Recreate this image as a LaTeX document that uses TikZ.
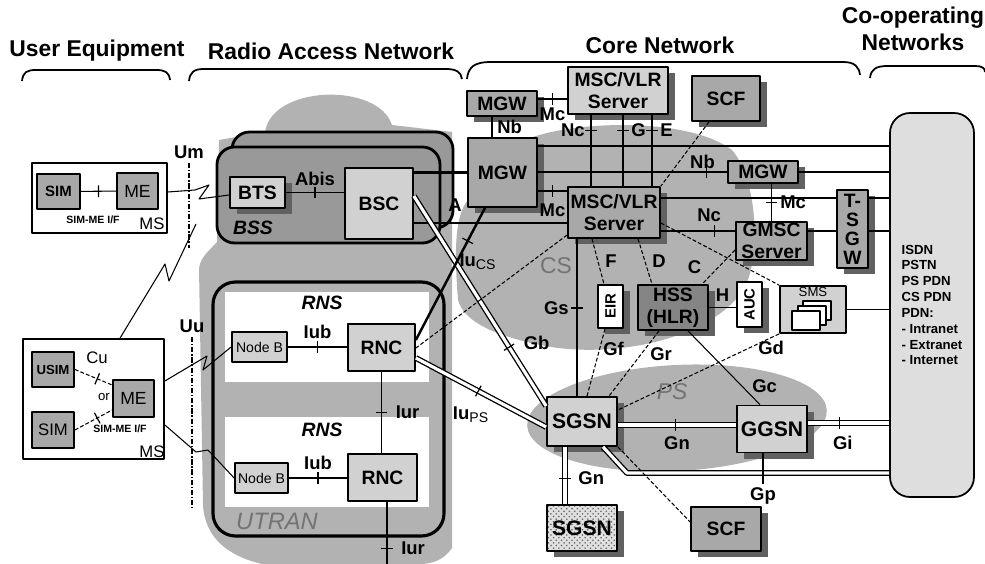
\documentclass[tikz,border=0pt]{standalone}
\usepackage{fontspec}
\setmainfont{Liberation Sans}
\usetikzlibrary{shadows,patterns,decorations.markings}

\newcommand{\fsz}[1]{\fontsize{#1}{#1}\selectfont}

\begin{document}
\begin{tikzpicture}[x=0.2mm,y=-0.2mm,line join=round,
  every node/.style={font=\bfseries\fsz{10.5},inner sep=1pt},
  ne/.style={draw,line width=1pt,fill=black!34,align=center,inner sep=0pt,
    font=\bfseries\fontsize{11}{12.5}\selectfont},
  shd/.style={drop shadow={shadow xshift=1.3mm,shadow yshift=-1.3mm,fill=black!62,opacity=1}},
  lt/.style={fill=black!18},
  dk/.style={fill=black!48},
  wt/.style={fill=white},
  sz/.style 2 args={minimum width=#1*0.2mm,minimum height=#2*0.2mm},
  ln/.style={line width=0.6pt},
  sig/.style={line width=0.6pt,dash pattern=on 2.2pt off 1.2pt},
  usr/.style={line width=1.4pt},
  dbl/.style={double,double distance=1.8pt,line width=0.75pt},
  tickat/.style={postaction={decorate,decoration={markings,
    mark=at position #1 with {\draw[solid,line width=0.7pt] (0,-3.4pt) -- (0,3.4pt);}}}},
  radio/.style={line width=0.6pt},
  air/.style={line width=0.9pt,dash pattern=on 3pt off 1pt on 0.8pt off 1pt},
  cloudfill/.style={fill=black!30},
  brace/.style={line width=1pt},
  ttl/.style={font=\bfseries\fsz{13}},
  ital/.style={font=\bfseries\itshape\fsz{11}}
]
\useasboundingbox (0,0) rectangle (985,564);

% grey domains
\fill[cloudfill] (265,132) .. controls (272,85) and (378,82) .. (392,125) -- (452,132) -- (452,548)
  .. controls (444,560) and (432,564) .. (420,564) -- (262,564) .. controls (228,556) and (205,538) .. (203,505)
  -- (199,268) .. controls (201,256) and (210,250) .. (217,242) -- (219,140) -- cycle;
\fill[cloudfill] (458,300) .. controls (454,250) and (455,215) .. (468,200) -- (530,138)
  .. controls (580,120) and (690,118) .. (732,150) .. controls (758,180) and (762,262) .. (742,292)
  .. controls (705,342) and (610,358) .. (545,346) .. controls (495,336) and (464,322) .. (458,300) -- cycle;
\fill[cloudfill,rotate around={3:(677,418)}] (677,418) ellipse [x radius=150,y radius=53];

% titles
\node[ttl] (uet) at (97,51) {User Equipment};
\node[ttl] (rant) at (331,51) {Radio Access Network};
\node[ttl] (cnt) at (660,45) {Core Network};
\node[ttl,align=center,font=\bfseries\fontsize{13}{15.3}\selectfont] (cont) at (913,29) {Co-operating\\Networks};
\draw[brace] (22,81) .. controls (23,72) and (27,70) .. (36,70) -- (156,70) .. controls (165,70) and (169,72) .. (170,80);
\draw[brace] (189,81) .. controls (190,72) and (194,69) .. (204,69) -- (446,69) .. controls (456,69) and (461,72) .. (462,79);
\draw[brace] (467,79) .. controls (468,67) and (475,62) .. (490,62) -- (843,62) .. controls (855,62) and (859,67) .. (860,75);
\draw[brace] (870,78) .. controls (871,69) and (876,66) .. (888,66) -- (975,66) .. controls (982,66) and (985,68) .. (985,72);

% BSS and UTRAN frames
\draw[line width=1.6pt,fill=black!40,rounded corners=3.5mm] (232,132) rectangle (453,228);
\draw[line width=1.6pt,fill=black!40,rounded corners=3.5mm] (217,147) rectangle (440,243);
\fill[white] (225,292) rectangle (429,382);
\fill[white] (225,417) rectangle (429,507);
\draw[line width=1.8pt,rounded corners=4.5mm] (213,282) rectangle (444,536);

% user equipment
\node[ne,wt,sz={135}{70}] (msA) at (99.5,198) {};
\node[ne,sz={43}{35},font=\bfseries\fsz{8.5}] (simA) at (58.5,191.5) {SIM};
\node[ne,sz={41}{36},font=\fsz{10}] (meA) at (137.5,191) {ME};
\node[font=\bfseries\fsz{6}] (ifA) at (93,220) {SIM-ME I/F};
\node[font=\fsz{9.5}] (msAl) at (152,224) {MS};
\node[ne,wt,sz={141}{120}] (msB) at (93.5,399) {};
\node[ne,sz={42}{35},font=\bfseries\fsz{7.5}] (usim) at (53,369.5) {USIM};
\node[ne,sz={42}{36},font=\fsz{9.5}] (simB) at (53,430) {SIM};
\node[ne,sz={41}{37},font=\fsz{10}] (meB) at (133.5,398.5) {ME};
\node[font=\fsz{9.5}] (cu) at (97,358) {Cu};
\node[font=\fsz{7.5}] (orl) at (104,397) {or};
\node[font=\bfseries\fsz{6}] (ifB) at (120,429) {SIM-ME I/F};
\node[font=\fsz{9.5}] (msBl) at (152,452) {MS};

% radio access
\node[ne,lt,shd,sz={55}{31}] (bts) at (257.5,192.5) {BTS};
\node[ne,lt,sz={68}{71}] (bsc) at (379,203.5) {BSC};
\node[ital] (bss) at (253,228) {BSS};
\node[ital] (rnsA) at (322,303) {RNS};
\node[ital] (rnsB) at (322,430) {RNS};
\node[ne,lt,sz={55}{30},font=\fsz{8}] (nodebA) at (259.5,347) {Node B};
\node[ne,lt,sz={67}{47}] (rncA) at (381.5,347.5) {RNC};
\node[ne,lt,sz={53}{30},font=\fsz{8}] (nodebB) at (261.5,478) {Node B};
\node[ne,lt,sz={69}{47}] (rncB) at (382.5,477.5) {RNC};
\node[font=\itshape\fsz{13.5},text=black!55] (utran) at (277,521) {UTRAN};

% core network
\node[ne,shd,sz={70}{25}] (mgwA) at (502,103.5) {MGW};
\node[ne,lt,shd,sz={100}{47}] (mscA) at (618,90.5) {MSC/VLR\\Server};
\node[ne,shd,sz={68}{45}] (scfA) at (726,98.5) {SCF};
\node[ne,shd,sz={69}{69}] (mgwB) at (502.5,172.5) {MGW};
\node[ne,shd,sz={92}{51}] (mscB) at (614,212.5) {MSC/VLR\\Server};
\node[ne,shd,sz={70}{22}] (mgwC) at (763,172) {MGW};
\node[ne,shd,sz={71}{38}] (gmsc) at (771.5,241) {GMSC\\Server};
\node[ne,shd,sz={31}{78},font=\bfseries\fontsize{11}{10.8}\selectfont] (tsgw) at (852.5,229) {T-\\S\\G\\W};
\node[ne,wt,shd,sz={25}{43},font=\bfseries\fsz{8.5}] (eir) at (610.5,306.5) {\rotatebox{90}{EIR}};
\node[ne,dk,shd,sz={70}{45}] (hss) at (673,307.5) {HSS\\(HLR)};
\node[ne,wt,shd,sz={25}{45},font=\bfseries\fsz{8.5}] (auc) at (749.5,304.5) {\rotatebox{90}{AUC}};
\node[ne,lt,sz={66}{47}] (sms) at (813,309.5) {};
\node[font=\fsz{7.5},anchor=north] (smsl) at (sms.north) {SMS};
\foreach \dx/\dy in {0/0,-5/5,-11/10}
  \draw[line width=0.8pt,fill=white] (803+\dx,301+\dy) rectangle (831+\dx,320+\dy);
\node[ne,lt,shd,sz={70}{49},font=\bfseries\fsz{12}] (sgsnA) at (582,421.5) {SGSN};
\node[ne,lt,shd,sz={70}{47},font=\bfseries\fsz{12}] (ggsn) at (772,429) {GGSN};
\node[ne,shd,sz={70}{46},preaction={fill=black!12},pattern=crosshatch dots,pattern color=black!60,
  font=\bfseries\fsz{12}] (sgsnB) at (582,528) {SGSN};
\node[ne,shd,sz={70}{44}] (scfB) at (726,529) {SCF};
\node[ne,fill=black!13,rounded corners=4mm,sz={84}{384},align=left,
  font=\bfseries\fontsize{7.5}{9}\selectfont] (coop) at (932,305)
  {ISDN\\PSTN\\PS PDN\\CS PDN\\PDN:\\- Intranet\\- Extranet\\- Internet};
\node[font=\fsz{13},text=black!55] (csl) at (556,266) {CS};
\node[font=\itshape\fsz{13},text=black!55] (psl) at (672,392) {PS};

% radio links
\draw[ln,tickat=0.5] (simA) -- (meA);
\draw[radio] (msA.east |- 0,192) -- (195,190) -- (209,185) -- (199,199) -- (bts.west |- 0,195);
\coordinate (umtop) at (189,163);
\coordinate (umbot) at (189,248);
\draw[air] (umtop) -- (umbot);
\node[above=0.4mm] (um) at (umtop) {Um};
\coordinate (gsmair) at (196,224);
\draw[radio] ([xshift=5.3mm]msB.north) -- (165,264) -- (169,281) -- (gsmair);
\draw[radio] (msB.east |- 0,381) -- (207,356) -- (203,370) -- (nodebA.west);
\draw[radio] (msB.east |- 0,425) -- (196,452) -- (208,450) -- (nodebB.west);
\coordinate (uutop) at (192,337);
\coordinate (uubot) at (192,508);
\draw[air] (uutop) -- (uubot);
\node[above=0.4mm] (uu) at (uutop) {Uu};
\draw[sig,tickat=0.6] (usim.east) -- ([yshift=2.7mm]meB.west);
\draw[sig,tickat=0.6] (simB.east) -- ([yshift=-2.3mm]meB.west);

% access interfaces
\draw[ln,tickat=0.5] (bts.east) -- (bts.east -| bsc.west) node[midway,above=1mm] {Abis};
\draw[usr] (bsc.east |- mgwB.west) -- (mgwB.west);
\draw[ln] (bsc.east |- 0,223) -- (mscB.west |- 0,223);
\node (al) at (455,205) {A};
\draw[dbl,tickat=0.72] (bsc.east |- 0,196) -- (sgsnA.west |- 0,406) node[pos=0.7,right=3mm] {Gb};
\draw[usr,tickat=0.25] (mgwB.south -| 485,0) -- (rncA.east |- 0,340);
\draw[sig] (mscB.west |- 0,235) -- (rncA.east |- 0,348);
\node (iucs) at (478,262) {Iu\textsubscript{\mdseries\fsz{8}CS}};
\draw[dbl,tickat=0.48] (rncA.east |- 0,358) -- (sgsnA.west |- 0,427);
\node (iups) at (471,415) {Iu\textsubscript{\mdseries\fsz{8}PS}};
\draw[ln,tickat=0.5] (nodebA.east) -- (nodebA.east -| rncA.west) node[midway,above=1.2mm] {Iub};
\draw[ln,tickat=0.5] (nodebB.east) -- (nodebB.east -| rncB.west) node[midway,above=1.2mm] {Iub};
\draw[ln,tickat=0.5] (rncA.south) -- (rncA.south |- rncB.north) node[midway,right=2.4mm] {Iur};
\coordinate (iurend) at (387,564);
\draw[ln,tickat=0.75] (rncB.south -| iurend) -- (iurend) node[pos=0.75,right=2.4mm] {Iur};

% core interfaces
\draw[ln] (mgwA.south -| 492,0) -- (mgwB.north -| 492,0) node[midway,right=0.6mm] {Nb};
\draw[ln,tickat=0.5] (mgwA.east |- 0,99) -- (mscA.west |- 0,99) node[midway,below=1.3mm] {Mc};
\draw[ln,tickat=0.22] (mscA.south -| 591,0) -- (mscB.north -| 591,0) node[pos=0.22,left=0.8mm] {Nc};
\draw[ln,tickat=0.22] (mscA.south -| 623,0) -- (mscB.north -| 623,0) node[pos=0.22,right=1.2mm] {G};
\draw[ln,tickat=0.22] (mscA.south -| 652,0) -- (mscB.north -| 652,0) node[pos=0.22,right=1.2mm] {E};
\draw[sig] (scfA.south -| 709,0) -- (mscB.north east);
\draw[usr] (mgwB.east |- 0,146) -- (coop.west |- 0,146);
\draw[usr,tickat=0.89] (mgwB.east |- mgwC.west) -- (mgwC.west) node[pos=0.87,above] {Nb};
\draw[usr] (mgwC.east) -- (mgwC.east -| coop.west);
\draw[ln,tickat=0.5] (mgwB.east |- 0,191) -- (mscB.west |- 0,191) node[midway,below=2.2mm] {Mc};
\draw[ln] (mscB.east |- 0,198) -- (tsgw.west |- 0,198);
\draw[ln] (tsgw.east |- 0,198) -- (coop.west |- 0,198);
\draw[ln,tickat=0.72] (mscB.east |- 0,231) -- (gmsc.west |- 0,231) node[pos=0.65,above=1.5mm] {Nc};
\draw[ln] (gmsc.east |- 0,231) -- (tsgw.west |- 0,231);
\draw[ln] (tsgw.east |- 0,231) -- (coop.west |- 0,231);
\draw[ln,tickat=0.5] (gmsc.north |- mgwC.south) -- (gmsc.north) node[midway,right=1.3mm] {Mc};
\draw[sig] (mscB.south -| 592,0) -- (eir.north -| 604,0) node[midway,right=1mm] {F};
\draw[sig] (mscB.south -| 638,0) -- (hss.north -| 652,0) node[midway,right=1mm] {D};
\draw[sig] (gmsc.west |- 0,250) -- (hss.north -| 702,0) node[midway,left=3mm] {C};
\draw[sig] (mscB.east |- 0,223) -- (sms.north west);
\draw[ln] (hss.east) -- (hss.east -| auc.west) node[midway,above=0.8mm] {H};
\draw[ln] (sms.east) -- (sms.east -| coop.west);
\draw[ln,tickat=0.44] (mscB.south -| 577,0) -- (sgsnA.north -| 577,0) node[pos=0.44,left=1.2mm] {Gs};
\draw[sig] (eir.south -| 605,0) -- (sgsnA.north -| 587,0) node[pos=0.3,right=0.3mm] {Gf};
\draw[sig] (hss.south -| 659,0) -- (sgsnA.north -| 609,0) node[pos=0.35,right=1.3mm] {Gr};
\draw[ln] (hss.south -| 688,0) -- (ggsn.north -| 760,0) node[pos=0.75,right=1.6mm] {Gc};
\draw[sig] (sms.south west) -- (sgsnA.east |- 0,410) node[pos=0.05,below=0.3mm] {Gd};
\draw[dbl,tickat=0.49] (sgsnA.east |- 0,425) -- (ggsn.west |- 0,425) node[midway,below=1.9mm] {Gn};
\draw[dbl,tickat=0.39] (ggsn.east |- 0,423) -- (coop.west |- 0,423) node[pos=0.43,below=2.2mm] {Gi};
\draw[dbl] (sgsnA.south -| 603,0) -- (627,473) -- (coop.west |- 0,473);
\coordinate (gpend) at (763,484);
\draw[ln] (ggsn.south -| gpend) -- (gpend) node[below=0.3mm] {Gp};
\draw[dbl,tickat=0.55] (sgsnA.south -| 565,0) -- (sgsnB.north -| 565,0) node[pos=0.55,right=2.2mm] {Gn};
\draw[sig] (sgsnA.south east) -- (scfB.west |- 0,522);
\end{tikzpicture}
\end{document}
